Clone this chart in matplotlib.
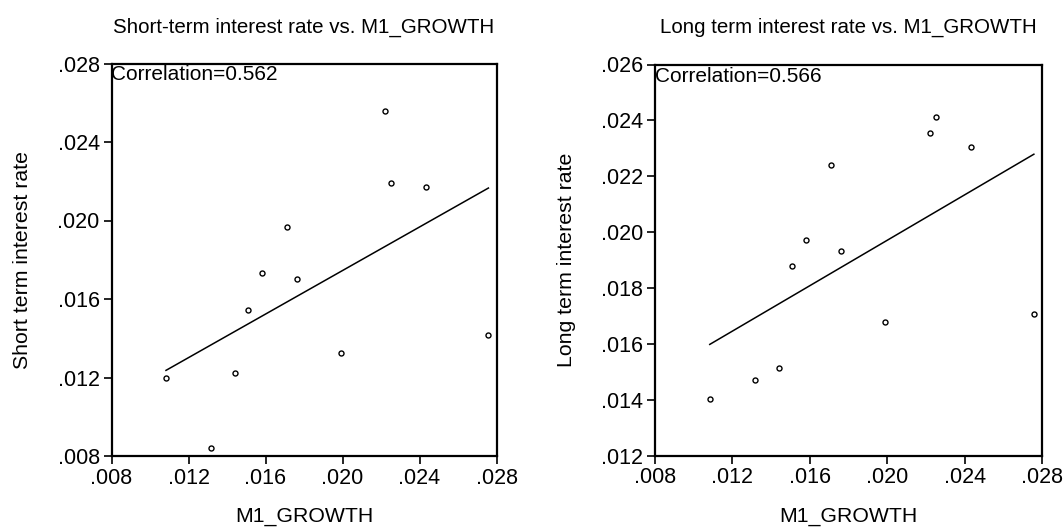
import numpy as np
import matplotlib
matplotlib.use("Agg")
import matplotlib.pyplot as plt
from matplotlib.ticker import FuncFormatter

# M1 growth (shared x), short and long interest rates
m1_growth = [0.01083, 0.01318, 0.01441, 0.01510, 0.01580, 0.01712,
             0.01762, 0.01990, 0.02221, 0.02252, 0.02432, 0.02758]
short_rate = [0.01200, 0.00839, 0.01222, 0.01546, 0.01730, 0.01967,
              0.01701, 0.01323, 0.02557, 0.02192, 0.02170, 0.01416]
long_rate = [0.01403, 0.01469, 0.01512, 0.01877, 0.01971, 0.02239,
             0.01933, 0.01677, 0.02354, 0.02411, 0.02306, 0.01706]

panels = [
    ("Short-term interest rate vs. M1_GROWTH", "Short term interest rate",
     short_rate, "Correlation=0.562", (0.008, 0.028), 0.004),
    ("Long term interest rate vs. M1_GROWTH", "Long term interest rate",
     long_rate, "Correlation=0.566", (0.012, 0.026), 0.002),
]

plt.rcParams['font.family'] = ['Liberation Sans', 'DejaVu Sans']
W, H = 1064, 527
fig = plt.figure(figsize=(W / 100, H / 100), dpi=100)

# axes boxes in pixels: left, top, right, bottom; plus y-label centre x
boxes = [(111.5, 63.5, 496.5, 456, 23), (655, 64.5, 1042, 455.5, 566)]

fmt = FuncFormatter(lambda v, pos: ("%.3f" % v).lstrip("0"))

for (title, ylab, yvals, corr, ylim, ystep), (l, t, r, b, ylx) in zip(panels, boxes):
    ax = fig.add_axes([l / W, 1 - b / H, (r - l) / W, (b - t) / H])
    x = np.array(m1_growth)
    y = np.array(yvals)
    ax.plot(x, y, 'o', mfc='none', mec='black', ms=3.6, mew=1.0)
    # least squares line over the data range
    slope, icpt = np.polyfit(x, y, 1)
    xs = np.array([x.min(), x.max()])
    ax.plot(xs, icpt + slope * xs, color='black', lw=1.1)

    ax.set_xlim(0.008, 0.028)
    ax.set_ylim(*ylim)
    ax.set_xticks(np.arange(0.008, 0.0281, 0.004))
    ax.set_yticks(np.arange(ylim[0], ylim[1] + 1e-9, ystep))
    ax.xaxis.set_major_formatter(fmt)
    ax.yaxis.set_major_formatter(fmt)
    ax.tick_params(direction='out', length=6, width=1.2, pad=2.5,
                   labelsize=15.5, top=False, right=False)
    for s in ax.spines.values():
        s.set_linewidth(1.6)

    hpx = b - t
    wpx = r - l
    ax.text(0.5, (b - 27) / hpx, title, transform=ax.transAxes,
            ha='center', va='center', fontsize=14.8)
    ax.text(0.0, 1 - 2 / hpx, corr, transform=ax.transAxes,
            ha='left', va='top', fontsize=15)
    ax.set_xlabel("M1_GROWTH", fontsize=15.3, va='center')
    ax.xaxis.set_label_coords(0.5, (b - 516) / hpx)
    ax.set_ylabel(ylab, fontsize=15.3, va='center')
    ax.yaxis.set_label_coords((ylx - l) / wpx, 0.5)

fig.savefig("out.png", dpi=100)
